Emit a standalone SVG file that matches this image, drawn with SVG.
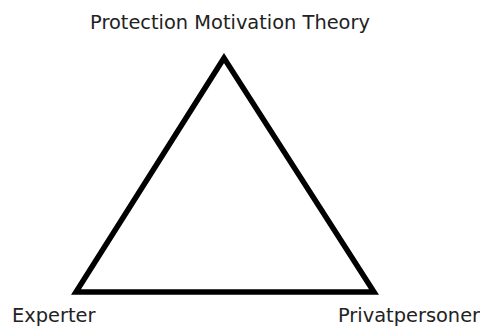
<svg xmlns="http://www.w3.org/2000/svg" width="480" height="327" viewBox="0 0 480 327">
<style>
.lbl{font-family:"DejaVu Sans","Verdana",sans-serif;font-size:19.4px;fill:#222}
.tri{fill:none;stroke:#000;stroke-width:5.5;stroke-linejoin:miter;stroke-miterlimit:10}
</style>
<rect width="480" height="327" fill="#fff"/>
<g id="connectors">
<path class="tri" d="M224,58 L76,292 L374,292 Z"/>
</g>
<g id="node-pmt"><text class="lbl" x="230" y="29" text-anchor="middle">Protection Motivation Theory</text></g>
<g id="node-experter"><text class="lbl" x="12" y="321.5">Experter</text></g>
<g id="node-privat"><text class="lbl" x="338" y="321.5">Privatpersoner</text></g>
</svg>
